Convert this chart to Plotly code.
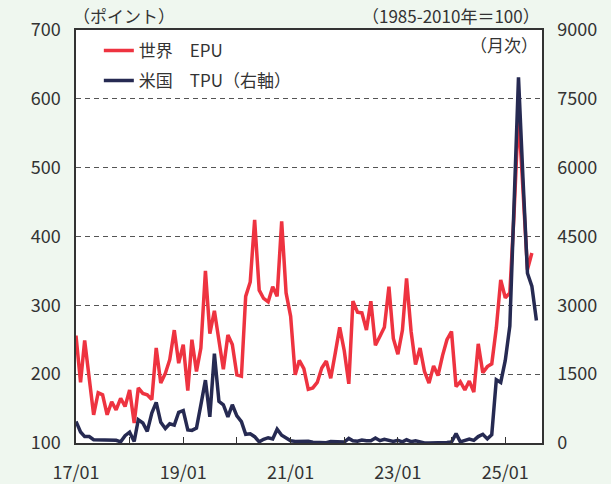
import pandas as pd
import plotly.graph_objects as go

# ---- data ----
epu_values = [
    256, 188, 249, 197, 141, 173, 170, 141, 160, 148, 165, 153,   # 2017
    177, 129, 180, 172, 170, 163, 238, 187, 201, 221, 264, 216,   # 2018
    243, 176, 250, 204, 238, 350, 259, 292, 245, 207, 257, 243,   # 2019
    199, 197, 313, 334, 424, 322, 310, 305, 327, 313, 422, 318,   # 2020
    284, 199, 220, 208, 178, 180, 188, 209, 219, 194, 231, 268,   # 2021
    234, 186, 306, 290, 289, 264, 306, 242, 255, 268, 327, 252,   # 2022
    229, 264, 339, 262, 214, 238, 204, 187, 212, 198, 227, 250,   # 2023
    262, 182, 189, 177, 190, 174, 244, 202, 211, 215, 267, 337,   # 2024
    311, 318, 430, 580, 470, 352, 376,                            # 2025
]
tpu_values = [
    470, 240, 140, 140, 72, 72, 72, 72, 65, 60, 25, 160,          # 2017
    235, 32, 508, 435, 253, 653, 885, 450, 315, 420, 390, 670,    # 2018
    705, 285, 275, 327, 830, 1370, 570, 1945, 906, 834, 570, 834, # 2019
    590, 465, 190, 200, 137, 25, 80, 115, 90, 300, 170, 100,      # 2020
    50, 35, 35, 50, 40, 15, 10, 0, 5, 35, 35, 20,                 # 2021
    20, 100, 50, 40, 65, 50, 50, 109, 50, 80, 50, 35,             # 2022
    60, 25, 70, 30, 50, 20, 0, 0, 0, 0, 5, 10,                    # 2023
    20, 203, 25, 50, 87, 58, 140, 190, 90, 180, 1380, 1320,       # 2024
    1800, 2550, 5200, 7970, 5800, 3700, 3420, 2670,               # 2025
]
epu_dates = pd.date_range("2017-01-01", periods=len(epu_values), freq="MS")
tpu_dates = pd.date_range("2017-01-01", periods=len(tpu_values), freq="MS")

tick_dates = pd.date_range("2017-01-01", "2025-01-01", freq="12MS")
tick_labels = ["17/01", "", "19/01", "", "21/01", "", "23/01", "", "25/01"]
left_ticks = [100, 200, 300, 400, 500, 600, 700]
right_ticks = [0, 1500, 3000, 4500, 6000, 7500, 9000]

epu_name = "世界　EPU"
tpu_name = "米国　TPU（右軸）"

FONT = "Noto Sans CJK JP"
TXT = "#333333"
RED = "#EE3340"
NAVY = "#262A52"
BG = "#EFF7EF"

fig = go.Figure()
fig.add_trace(go.Scatter(x=epu_dates, y=epu_values, name=epu_name, mode="lines",
                         legendgroup="epu",
                         line=dict(color=RED, width=3.5), yaxis="y"))
fig.add_trace(go.Scatter(x=tpu_dates, y=tpu_values, name=tpu_name, mode="lines",
                         legendgroup="tpu",
                         line=dict(color=NAVY, width=3.5), yaxis="y2"))

fig.update_layout(
    width=611, height=484,
    margin=dict(l=76, r=69, t=30, b=41, autoexpand=False),
    paper_bgcolor=BG,
    plot_bgcolor="#FFFFFF",
    font=dict(family=FONT, size=18, color=TXT),
    showlegend=True,
    legend=dict(x=0.049, y=0.993, xanchor="left", yanchor="top",
                bgcolor="rgba(0,0,0,0)", font=dict(size=17, color=TXT),
                tracegroupgap=5, itemwidth=30),
    xaxis=dict(
        range=["2017-01-01", "2025-09-08"], automargin=False,
        tickvals=tick_dates, ticktext=tick_labels,
        ticks="inside", ticklen=6, tickcolor="#333333",
        showline=True, linecolor="#333333", linewidth=1.5, mirror=True,
        showgrid=False, zeroline=False, ticklabelstandoff=13,
    ),
    yaxis=dict(
        range=[100, 700], tickvals=left_ticks, automargin=False,
        showline=True, linecolor="#333333", linewidth=1.5,
        showgrid=True, gridcolor="#555555", gridwidth=1, griddash="5px,4px",
        zeroline=False, ticks="", ticklabelstandoff=10,
    ),
    yaxis2=dict(
        range=[0, 9000], tickvals=right_ticks, overlaying="y", side="right",
        automargin=False,
        showline=True, linecolor="#333333", linewidth=1.5,
        showgrid=False, zeroline=False, ticks="", ticklabelstandoff=10,
    ),
    annotations=[
        dict(text="（ポイント）", xref="paper", yref="paper", x=-0.01, y=1.036,
             xanchor="left", yanchor="middle", showarrow=False, font=dict(size=17)),
        dict(text="（1985-2010年＝100）", xref="paper", yref="paper", x=1.0, y=1.036,
             xanchor="right", yanchor="middle", showarrow=False, font=dict(size=17)),
        dict(text="（月次）", xref="paper", yref="paper", x=0.995, y=0.965,
             xanchor="right", yanchor="middle", showarrow=False, font=dict(size=17)),
    ],
)

fig.write_html(
    "out.html",
    config={"displayModeBar": False},
    post_script="document.body.style.margin='0';document.body.style.background='" + BG + "';",
)
